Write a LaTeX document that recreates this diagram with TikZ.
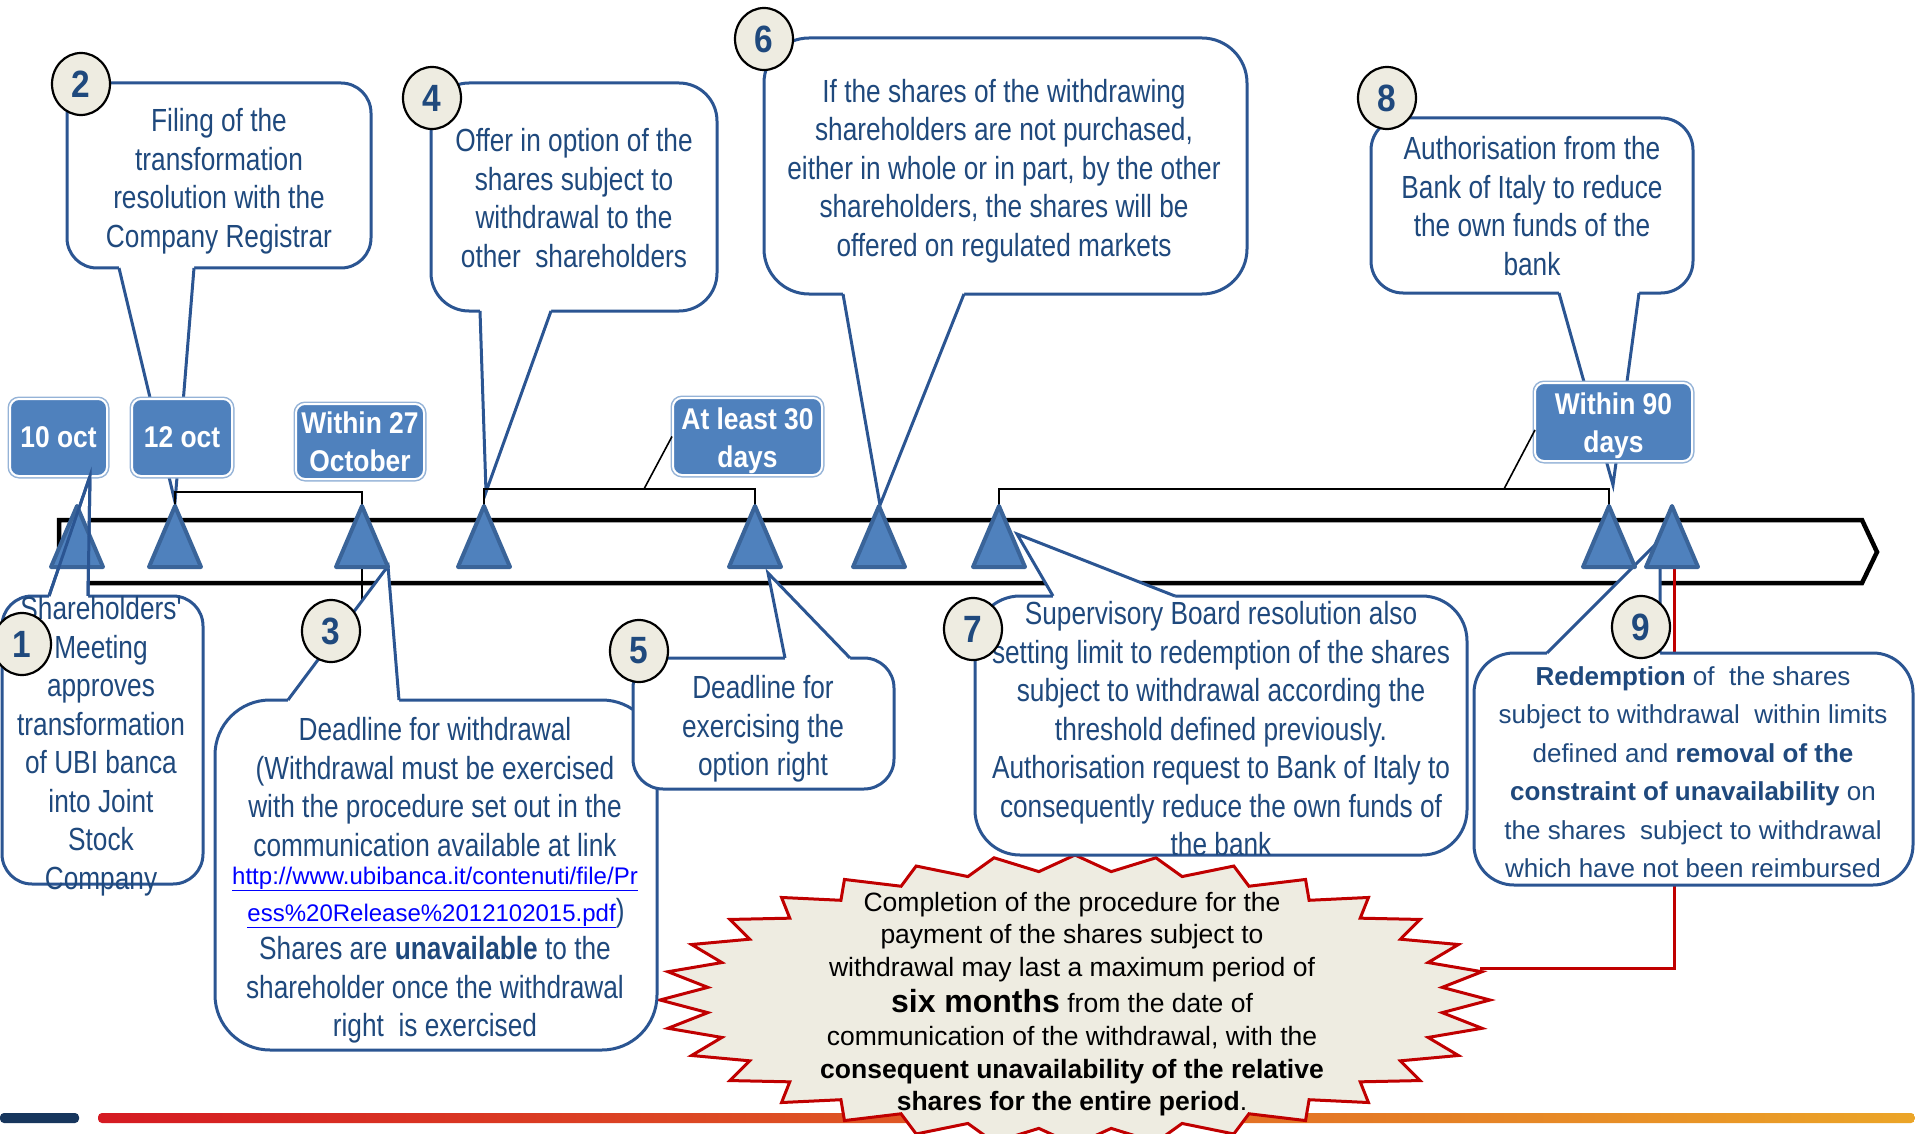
\documentclass[tikz,border=0pt]{standalone}
\usepackage{fontspec}
\setmainfont{Liberation Sans}
\newfontfamily\nar[FakeStretch=0.82]{Liberation Sans}
\newfontfamily\datef[FakeStretch=0.88]{Liberation Sans}
\usetikzlibrary{shapes.geometric,calc}
\definecolor{textblue}{HTML}{1F497D}
\definecolor{lineblue}{HTML}{2B5592}
\definecolor{triblue}{HTML}{4F81BD}
\definecolor{triedge}{HTML}{3A6499}
\definecolor{dateedge}{HTML}{95B3D7}
\definecolor{numfill}{HTML}{EEECE1}
\definecolor{burstfill}{HTML}{EEECE1}
\definecolor{burstred}{HTML}{C00000}
\definecolor{navy}{HTML}{17365D}
\definecolor{barred}{HTML}{D51A22}
\definecolor{barmid}{HTML}{DC5A26}
\definecolor{barorange}{HTML}{EBA528}
\definecolor{linkblue}{HTML}{0000FF}
\tikzset{
 cline/.style={draw=lineblue, line width=3pt, line join=miter},
 cbox/.style={draw=lineblue, line width=3pt, fill=white, inner sep=0pt},
 ctext/.style={text=textblue, align=center, inner sep=0pt, font=\nar\fontsize{32}{38.5}\selectfont},
 wtext/.style={text=textblue, align=center, inner sep=0pt, font=\fontsize{26}{38.5}\selectfont},
 ltext/.style={text=linkblue, inner sep=0pt, font=\fontsize{24}{30}\selectfont},
 num/.style={ellipse, draw=black, line width=2.2pt, fill=numfill, minimum width=58pt, minimum height=62pt, inner sep=0pt, text=textblue, font=\datef\bfseries\fontsize{38}{38}\selectfont},
 dbox/.style={fill=triblue, draw=white, line width=2pt, rounded corners=9pt, preaction={draw=dateedge, line width=5pt}, text=white, align=center, inner sep=0pt, font=\datef\bfseries\fontsize{30}{38}\selectfont},
 tri/.style={fill=triblue, draw=triedge, line width=4pt, line join=round},
 brk/.style={draw=black, line width=1.6pt},
 redl/.style={draw=burstred, line width=3pt},
 burst/.style={fill=burstfill, draw=burstred, line width=3pt, line join=miter},
 btext/.style={text=black, align=center, inner sep=0pt, font=\fontsize{26.5}{32.6}\selectfont},
}
\newcommand{\callwedge}[4]{%
  \fill[white] (#1) -- (#2) -- (#3) -- ($(#3)+(#4)$) -- ($(#1)+(#4)$) -- cycle;
  \draw[cline] (#1) -- (#2) -- (#3);}
\newcommand{\dstrut}{\rule{0pt}{30pt}}
\begin{document}
\begin{tikzpicture}[x=1pt,y=-1pt]
\useasboundingbox (0,0) rectangle (1915,1134);
% bottom decorative bar
\fill[navy, rounded corners=4pt] (0,1113) rectangle (79,1123);
\shade[left color=barred, middle color=barmid, right color=barorange, rounded corners=4pt] (98,1113) rectangle (1915,1123);
% timeline arrow
\draw[line width=4.5pt, fill=white, line join=miter] (59,520) -- (1862,520) -- (1877,552) -- (1862,583) -- (59,583) -- cycle;
% triangle apex coordinates
\foreach \n/\x in {1/77,2/175,3/362,4/484,5/755,6/879,7/999,8/1609,9/1672} { \coordinate (A\n) at (\x,506); }
% small line below triangle 3
\coordinate (A3low) at (362,640);
\draw[brk] (A3) -- (A3low);
% red connector
\coordinate (R1) at (1674,567);
\coordinate (R2) at (1674,968);
\coordinate (R3) at (1480,968);
\draw[redl] (R1) -- (R2) -- (R3);
% starburst
\begin{scope}[shift={(1075,1000)}]
\filldraw[burst] (0:415 and 145) \foreach \k in {0,...,31} { -- ({\k*11.25+5.625}:369 and 129) -- ({(\k+1)*11.25}:415 and 145) } -- cycle;
\end{scope}
% pointer coordinates
\coordinate (P1a) at (49,596);  \coordinate (P1t) at (90,476);  \coordinate (P1b) at (88,596);
\coordinate (P2a) at (119,268); \coordinate (P2t) at (175,502); \coordinate (P2b) at (194,268);
\coordinate (P3a) at (288,700); \coordinate (P3t) at (388,566); \coordinate (P3b) at (399,700);
\coordinate (P4a) at (480,311); \coordinate (P4t) at (486,492); \coordinate (P4b) at (551,311);
\coordinate (P5a) at (785,658); \coordinate (P5t) at (768,573); \coordinate (P5b) at (850,658);
\coordinate (P6a) at (843,294); \coordinate (P6t) at (880,505); \coordinate (P6b) at (964,294);
\coordinate (P7a) at (1053,596); \coordinate (P7t) at (1017,534); \coordinate (P7b) at (1175,596);
\coordinate (P8a) at (1559,293); \coordinate (P8t) at (1613,485); \coordinate (P8b) at (1639,293);
\coordinate (P9a) at (1547,653); \coordinate (P9t) at (1660,540); \coordinate (P9b) at (1660,653);
% callout boxes
\node[cbox, rounded corners=55pt, minimum width=442pt, minimum height=350pt] (B3) at (436,875) {};
\callwedge{P3a}{P3t}{P3b}{0,6}
\node[cbox, rounded corners=30pt, minimum width=261pt, minimum height=131pt] (B5) at (763.5,723.5) {};
\callwedge{P5a}{P5t}{P5b}{0,6}
\node[cbox, rounded corners=30pt, minimum width=201pt, minimum height=288pt] (B1) at (102.5,740) {};
\callwedge{P1a}{P1t}{P1b}{0,6}
\node[cbox, rounded corners=30pt, minimum width=304pt, minimum height=185pt] (B2) at (219,175.5) {};
\callwedge{P2a}{P2t}{P2b}{0,-6}
\node[cbox, rounded corners=38pt, minimum width=286pt, minimum height=228pt] (B4) at (574,197) {};
\callwedge{P4a}{P4t}{P4b}{0,-6}
\node[cbox, rounded corners=45pt, minimum width=483pt, minimum height=256pt] (B6) at (1005.5,166) {};
\callwedge{P6a}{P6t}{P6b}{0,-6}
\node[cbox, rounded corners=45pt, minimum width=492pt, minimum height=259pt] (B7) at (1221,725.5) {};
\callwedge{P7a}{P7t}{P7b}{0,6}
\node[cbox, rounded corners=32pt, minimum width=322pt, minimum height=175pt] (B8) at (1532,205.5) {};
\callwedge{P8a}{P8t}{P8b}{0,-6}
\node[cbox, rounded corners=40pt, minimum width=439pt, minimum height=232pt] (B9) at (1693.5,769) {};
\callwedge{P9a}{P9t}{P9b}{0,6}
% date boxes
\node[dbox, minimum width=97pt, minimum height=77pt] (D1) at (58.5,437.5) {10 oct};
\node[dbox, minimum width=100pt, minimum height=77pt] (D2) at (182,437.5) {12 oct};
\node[dbox, minimum width=128pt, minimum height=75pt] (D3) at (360,441.5) {Within 27\\October};
\node[dbox, minimum width=149pt, minimum height=77pt] (D4) at (747.5,436.5) {\dstrut At least 30\\days};
\node[dbox, minimum width=157pt, minimum height=78pt] (D5) at (1613.5,422) {\dstrut Within 90\\days};
% brackets
\draw[brk] (A2) -- ++(0,-14) -| (A3);
\draw[brk] (A4) -- ++(0,-17) -| (A5);
\draw[brk] (A7) -- ++(0,-17) -| (A8);
\coordinate (K4) at (644,489);
\draw[brk] (K4) -- (D4.west);
\coordinate (K8a) at (1504,489);
\coordinate (K8b) at (1535,430);
\draw[brk] (K8a) -- (K8b);
% triangles
\foreach \n in {1,...,9} { \filldraw[tri] (A\n) -- ++(26,61) -- ++(-52,0) -- cycle; }
\draw[cline] (P1a) -- (P1t) -- (P1b);
% texts
\node[ctext] (T1) at (101,746) {Shareholders'\\Meeting\\approves\\transformation\\of UBI banca\\into Joint\\Stock\\Company};
\node[ctext] (T2) at (219,181) {Filing of the\\transformation\\resolution with the\\Company Registrar};
\node[ctext] (T3a) at (435,787) {Deadline for withdrawal\\(Withdrawal must be exercised\\with the procedure set out in the\\communication available at link};
\node[ltext] (T3l1) at (435,879) {\underline{http://www.ubibanca.it/contenuti/file/Pr}};
\node[ltext] (T3l2) at (436,913) {\underline{ess\%20Release\%2012102015.pdf}{\nar\fontsize{32}{32}\selectfont\color{textblue})}};
\node[ctext] (T3b) at (435,990) {Shares are \textbf{unavailable} to the\\shareholder once the withdrawal\\right\ \ is exercised};
\node[ctext] (T4) at (574,198) {Offer in option of the\\shares subject to\\withdrawal to the\\other\ \ shareholders};
\node[ctext] (T5) at (763,729) {Deadline for\\exercising the\\option right};
\node[ctext] (T6) at (1004,171) {If the shares of the withdrawing\\shareholders are not purchased,\\either in whole or in part, by the other\\shareholders, the shares will be\\offered on regulated markets};
\node[ctext] (T7) at (1221,729) {Supervisory Board resolution also\\setting limit to redemption of the shares\\subject to withdrawal according the\\threshold defined previously.\\Authorisation request to Bank of Italy to\\consequently reduce the own funds of\\the bank};
\node[ctext] (T8) at (1532,206) {Authorisation from the\\Bank of Italy to reduce\\the own funds of the\\bank};
\node[wtext] (T9) at (1693,772) {\textbf{Redemption} of\ \ the shares\\subject to withdrawal\ \ within limits\\defined and \textbf{removal of the}\\\textbf{constraint of unavailability} on\\the shares\ \ subject to withdrawal\\which have not been reimbursed};
\node[btext] (TB) at (1072,1004) {Completion of the procedure for the\\payment of the shares subject to\\withdrawal may last a maximum period of\\[4pt]{\bfseries\fontsize{32}{32.6}\selectfont six months} from the date of\\communication of the withdrawal, with the\\\textbf{consequent unavailability of the relative}\\\textbf{shares for the entire period}.};
% number circles
\node[num] (N1) at (22,644) {1};
\node[num] (N2) at (81,84) {2};
\node[num] (N3) at (331,631) {3};
\node[num] (N4) at (432,98) {4};
\node[num] (N5) at (639,651) {5};
\node[num] (N6) at (764,39) {6};
\node[num] (N7) at (973,629) {7};
\node[num] (N8) at (1387,98) {8};
\node[num] (N9) at (1641,627) {9};
\end{tikzpicture}
\end{document}
